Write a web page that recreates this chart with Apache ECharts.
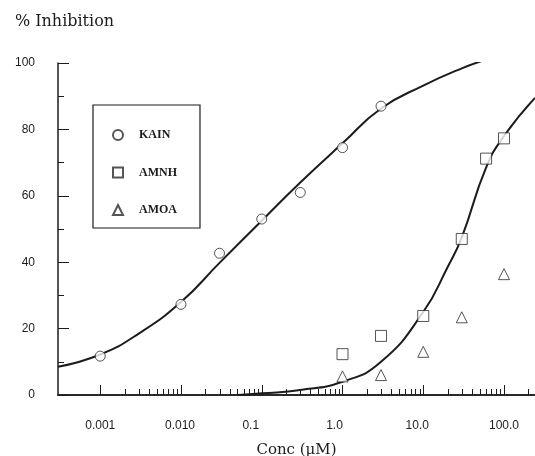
<!DOCTYPE html>
<html><head><meta charset="utf-8">
<script src="https://cdn.jsdelivr.net/npm/echarts@6/dist/echarts.min.js"></script>
<style>html,body{margin:0;padding:0;background:#fff}#c{width:535px;height:456px}</style>
</head><body><div id="c"></div>
<script>
// ---- data ----
const kainConc = [0.001, 0.01, 0.03, 0.1, 0.3, 1, 3];
const kainInhib = [11.7, 27.3, 42.7, 53, 61, 74.5, 87];
const amnhConc = [1, 3, 10, 30, 60, 100];
const amnhInhib = [12.3, 17.8, 23.8, 47, 71.2, 77.3];
const amoaConc = [1, 3, 10, 30, 100];
const amoaInhib = [5.6, 6, 13, 23.4, 36.4];
// fitted curves
const kainFitConc = [0.0003, 0.001, 0.003, 0.01, 0.03, 0.1, 0.3, 1, 3, 10, 30, 60];
const kainFitInhib = [8.5, 12.2, 18.5, 28, 39.8, 52.5, 64, 75.8, 86.3, 93.2, 98.4, 101];
const amnhFitConc = [0.05, 0.1, 0.3, 1, 3, 10, 20, 30, 60, 100, 242];
const amnhFitInhib = [0, 0.5, 1.5, 4, 10, 25, 38.5, 47.5, 68.5, 78, 89.5];
// axis ticks
const xTickValues = [0.001, 0.01, 0.1, 1, 10, 100];
const xTickLabels = ['0.001', '0.010', '0.1', '1.0', '10.0', '100.0'];
const xMinorMultipliers = [2, 3, 4, 5, 6, 7, 8, 9];
const yTickValues = [0, 20, 40, 60, 80, 100];
const yTickLabels = ['0', '20', '40', '60', '80', '100'];
const seriesNames = ['KAIN', 'AMNH', 'AMOA'];

// ---- chart ----
const X_MIN = 0.0003, X_MAX = 242;
const ink = '#1c1c1c';
const pairs = (xs, ys) => xs.map((x, i) => [x, ys[i]]);
const majorTickData = xTickValues.map(v => [v, 0]);
const minorTickData = [];
xTickValues.forEach(d => xMinorMultipliers.forEach(m => {
  const v = +(d * m).toPrecision(3);
  if (v <= X_MAX) minorTickData.push([v, 0]);
}));
const tickRenderer = len => (params, api) => {
  const p = api.coord([api.value(0), 0]);
  const x = Math.round(p[0]) + 0.5;
  return { type: 'line', shape: { x1: x, y1: p[1], x2: x, y2: p[1] - len },
           style: { stroke: ink, lineWidth: 1 } };
};
// the printed labels sit slightly left of their ticks in the original
const labelShiftStyles = {
  s0: { padding: [0, 0, 0, 0] }, s1: { padding: [0, 2, 0, 0] }, s2: { padding: [0, 22, 0, 0] },
  s3: { padding: [0, 16, 0, 0] }, s4: { padding: [0, 12, 0, 0] }, s5: { padding: [0, 0, 0, 0] }
};
const labelFor = v => {
  const i = xTickValues.findIndex(t => Math.abs(Math.log10(t) - Math.log10(v)) < 1e-6);
  return i >= 0 ? '{s' + i + '|' + xTickLabels[i] + '}' : '';
};
const markerStyle = { color: '#fff', borderColor: '#2a2a2a', borderWidth: 1 };
const hiddenParts = { axisLabel: { show: false }, splitLine: { show: false } };

const chart = echarts.init(document.getElementById('c'), null, { renderer: 'canvas' });
chart.setOption({
  animation: false,
  backgroundColor: '#fff',
  grid: { left: 58, right: 0, top: 63, bottom: 61, containLabel: false, outerBoundsMode: 'none' },
  legend: {
    data: seriesNames, orient: 'vertical', left: 93, top: 105,
    padding: [23, 23, 11, 19], itemGap: 23.5, itemWidth: 10, itemHeight: 10,
    borderColor: ink, borderWidth: 1.2, backgroundColor: '#fff',
    selectedMode: false,
    textStyle: { fontFamily: 'Liberation Serif', fontWeight: 'bold', fontSize: 12, color: ink,
      lineHeight: 14, padding: [0, 0, 0, 11] }
  },
  xAxis: [{
    type: 'log', logBase: 10, min: X_MIN, max: X_MAX,
    axisLine: { lineStyle: { color: ink, width: 1.5 } },
    axisTick: { show: false }, splitLine: { show: false },
    axisLabel: { margin: 25, fontFamily: 'Liberation Sans', fontSize: 12, color: ink,
      showMinLabel: false, showMaxLabel: false, formatter: labelFor, rich: labelShiftStyles },
    name: 'Conc (µM)', nameLocation: 'middle', nameGap: 48,
    nameTextStyle: { fontFamily: 'DejaVu Serif', fontSize: 15, color: ink }
  }, Object.assign({
    type: 'log', logBase: 10, min: X_MIN, max: X_MAX, position: 'top',
    axisLine: { lineStyle: { color: ink, width: 1.5 } }, axisTick: { show: false }
  }, hiddenParts)],
  yAxis: [{
    type: 'value', min: 0, max: 100, interval: 20,
    axisLine: { show: true, lineStyle: { color: ink, width: 1.5 } },
    axisTick: { show: true, inside: true, length: 11, lineStyle: { color: ink } },
    splitLine: { show: false },
    axisLabel: { margin: 23, fontFamily: 'Liberation Sans', fontSize: 12, color: ink,
      formatter: v => { const i = yTickValues.indexOf(v); return i >= 0 ? yTickLabels[i] : ''; } },
    name: '% Inhibition', nameLocation: 'end', nameGap: 33,
    nameTextStyle: { fontFamily: 'DejaVu Serif', fontSize: 16, color: ink, padding: [0, 0, 0, 13] }
  }, Object.assign({
    type: 'value', min: 0, max: 100, interval: 10, position: 'left', offset: 0,
    axisLine: { show: false },
    axisTick: { show: true, inside: true, length: 6, lineStyle: { color: ink } }
  }, hiddenParts)],
  series: [
    { type: 'custom', name: 'majorTicks', silent: true, data: majorTickData,
      renderItem: tickRenderer(10), clip: false, z: 3 },
    { type: 'custom', name: 'minorTicks', silent: true, data: minorTickData,
      renderItem: tickRenderer(6), clip: false, z: 3 },
    { type: 'line', name: 'KAIN fit', data: pairs(kainFitConc, kainFitInhib), smooth: 0.5,
      showSymbol: false, silent: true, lineStyle: { color: ink, width: 2 }, z: 2 },
    { type: 'line', name: 'AMNH fit', data: pairs(amnhFitConc, amnhFitInhib), smooth: 0.5,
      showSymbol: false, silent: true, lineStyle: { color: ink, width: 2 }, z: 2 },
    { type: 'scatter', name: 'KAIN', data: pairs(kainConc, kainInhib), symbol: 'circle',
      symbolSize: 10, itemStyle: markerStyle, silent: true, z: 5 },
    { type: 'scatter', name: 'AMNH', data: pairs(amnhConc, amnhInhib), symbol: 'rect',
      symbolSize: 11, itemStyle: markerStyle, silent: true, z: 5 },
    { type: 'scatter', name: 'AMOA', data: pairs(amoaConc, amoaInhib), symbol: 'triangle',
      symbolSize: 11, itemStyle: markerStyle, silent: true, z: 5 }
  ]
});
</script></body></html>
